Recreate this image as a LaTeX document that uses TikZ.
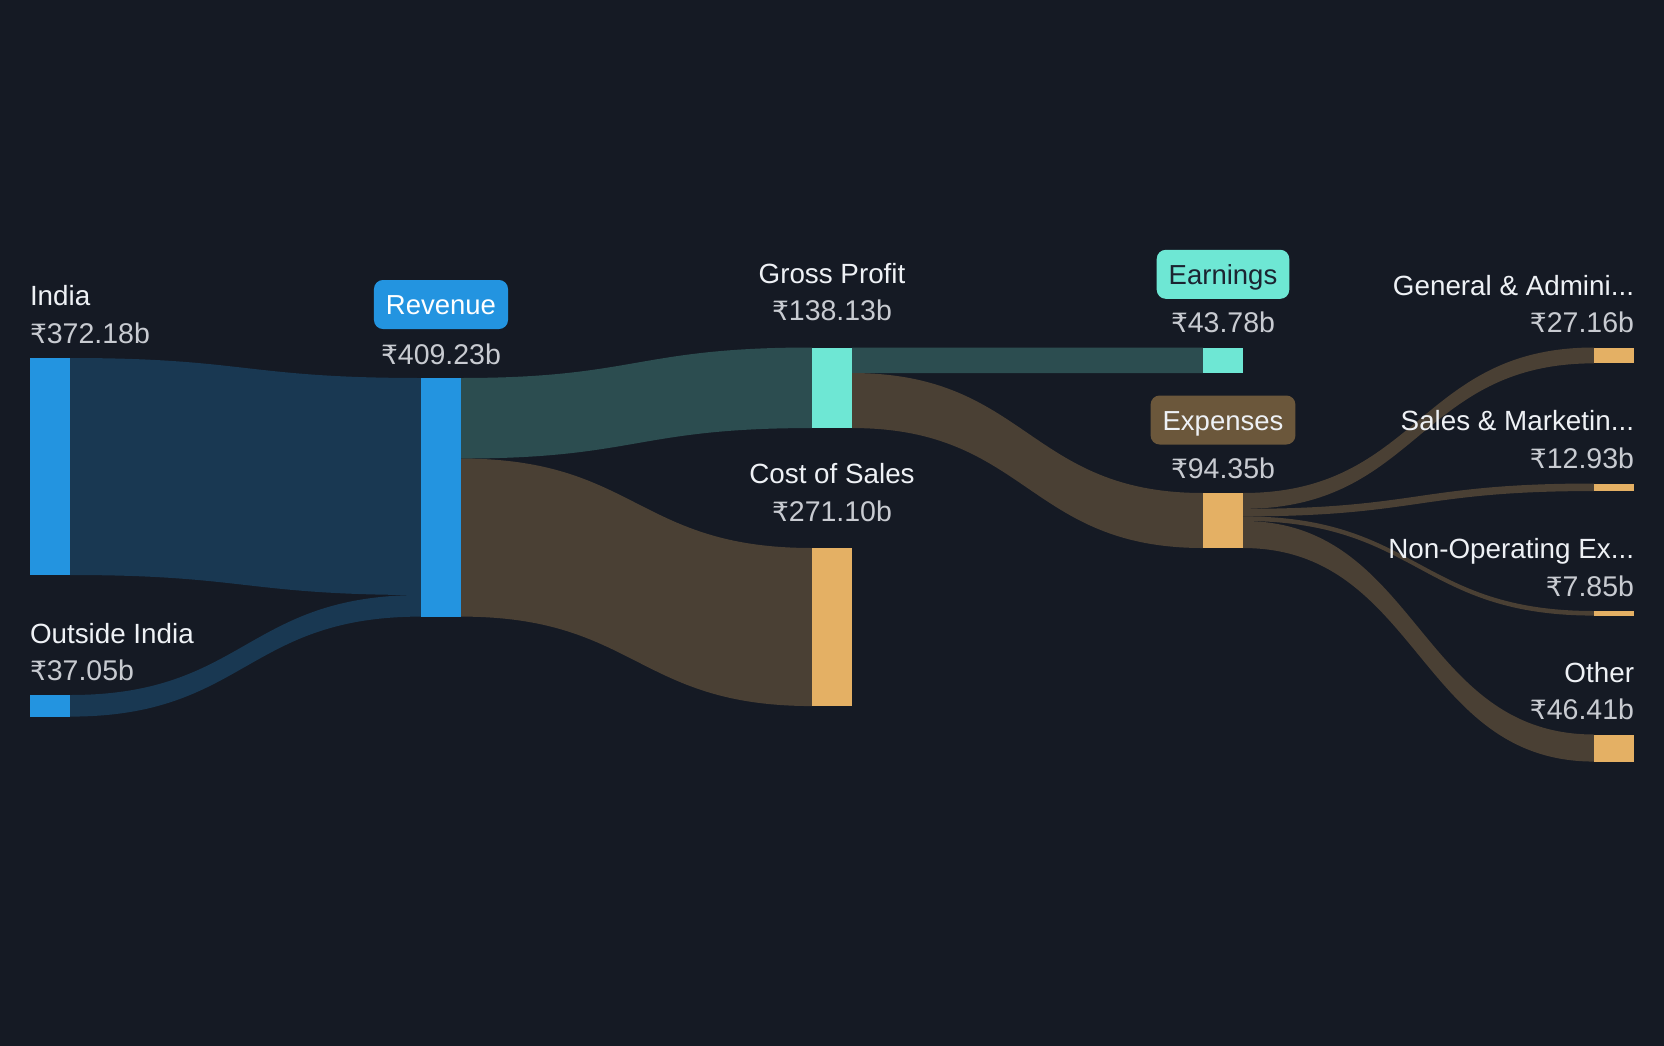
\documentclass[tikz,border=0pt]{standalone}
\usepackage{fontspec}
\setmainfont{Liberation Sans}
\newfontfamily\rupfont{DejaVu Sans}
\usetikzlibrary{calc}
\pgfdeclarelayer{bg}
\pgfsetlayers{bg,main}
\definecolor{bgc}{HTML}{151A24}
\definecolor{blueN}{HTML}{2394E0}
\definecolor{blueF}{HTML}{193852}
\definecolor{tealN}{HTML}{6EE7D4}
\definecolor{tealF}{HTML}{2C4D50}
\definecolor{orN}{HTML}{E4B064}
\definecolor{brF}{HTML}{4A4034}
\definecolor{expB}{HTML}{6B573B}
\definecolor{nameC}{HTML}{EEF1F5}
\definecolor{valC}{HTML}{C8CBD1}
\definecolor{darkT}{HTML}{1B2431}
\newcommand\Rs{{\rupfont\fontsize{26.5}{30}\selectfont ₹}}
\newcommand\ribbon[6]{%
  \fill[#6] let \p1=($(#1.north east)+(0,#2)$), \p2=($(#3.north west)+(0,#4)$),
    \p3=($(#3.north west)+(0,#4+#5)$), \p4=($(#1.north east)+(0,#2+#5)$)
  in (\p1) .. controls ({0.5*\x1+0.5*\x2},\y1) and ({0.5*\x1+0.5*\x2},\y2) .. (\p2)
  -- (\p3) .. controls ({0.5*\x1+0.5*\x2},\y3) and ({0.5*\x1+0.5*\x2},\y4) .. (\p4) -- cycle;}
\tikzset{
  bar/.style={rectangle, inner sep=0pt, outer sep=0pt, minimum width=40pt, draw=none, anchor=north west},
  nm/.style={text=nameC, font=\fontsize{27.8}{33}\selectfont, inner sep=0pt, outer sep=0pt},
  val/.style={text=valC, font=\fontsize{28.5}{33}\selectfont, inner sep=0pt, outer sep=0pt},
  badge/.style={rectangle, rounded corners=9pt, inner xsep=12pt, inner ysep=0pt, outer sep=0pt,
    minimum height=49pt, text height=20pt, text depth=0pt, font=\fontsize{27.5}{33}\selectfont}
}
\begin{document}
\begin{tikzpicture}[x=1pt,y=-1pt]
\useasboundingbox (0,0) rectangle (1664,1046);
\begin{pgfonlayer}{bg}
\fill[bgc] (0,0) rectangle (1664,1046);
\end{pgfonlayer}
% bars
\node[bar, fill=blueN, minimum height=217pt] (india) at (30,358) {};
\node[bar, fill=blueN, minimum height=21.6pt] (outside) at (30,695) {};
\node[bar, fill=blueN, minimum height=238.6pt] (rev) at (421,378) {};
\node[bar, fill=tealN, minimum height=80.54pt] (gp) at (812,347.5) {};
\node[bar, fill=orN, minimum height=158.06pt] (cos) at (812,548) {};
\node[bar, fill=tealN, minimum height=25.53pt] (earn) at (1203,347.5) {};
\node[bar, fill=orN, minimum height=55.01pt] (exp) at (1203,493) {};
\node[bar, fill=orN, minimum height=15.84pt] (ga) at (1594,347.5) {};
\node[bar, fill=orN, minimum height=7.54pt] (sm) at (1594,483.5) {};
\node[bar, fill=orN, minimum height=4.58pt] (nonop) at (1594,611) {};
\node[bar, fill=orN, minimum height=27.06pt] (other) at (1594,734.5) {};
% flows
\begin{pgfonlayer}{bg}
\ribbon{india}{0}{rev}{0}{217}{blueF}
\ribbon{outside}{0}{rev}{217}{21.6}{blueF}
\ribbon{rev}{0}{gp}{0}{80.54}{tealF}
\ribbon{rev}{80.54}{cos}{0}{158.06}{brF}
\ribbon{gp}{0}{earn}{0}{25.53}{tealF}
\ribbon{gp}{25.53}{exp}{0}{55.01}{brF}
\ribbon{exp}{0}{ga}{0}{15.84}{brF}
\ribbon{exp}{15.84}{sm}{0}{7.54}{brF}
\ribbon{exp}{23.38}{nonop}{0}{4.58}{brF}
\ribbon{exp}{27.96}{other}{0}{27.06}{brF}
\end{pgfonlayer}
% labels column 0
\node[nm, anchor=base west] (indiaN) at ($(india.north west)+(0,-53)$) {India};
\node[val, anchor=base west] (indiaV) at ($(india.north west)+(0,-14.7)$) {\Rs372.18b};
\node[nm, anchor=base west] (outsideN) at ($(outside.north west)+(0,-52)$) {Outside India};
\node[val, anchor=base west] (outsideV) at ($(outside.north west)+(0,-14.5)$) {\Rs37.05b};
% column 1
\node[badge, fill=blueN, text=white] (revB) at ($(rev.north)+(0,-73.5)$) {Revenue};
\node[val, anchor=base] (revV) at ($(rev.north)+(0,-14)$) {\Rs409.23b};
% column 2
\node[nm, anchor=base] (gpN) at ($(gp.north)+(0,-64.5)$) {Gross Profit};
\node[val, anchor=base] (gpV) at ($(gp.north)+(0,-27)$) {\Rs138.13b};
\node[nm, anchor=base] (cosN) at ($(cos.north)+(0,-64.5)$) {Cost of Sales};
\node[val, anchor=base] (cosV) at ($(cos.north)+(0,-26.5)$) {\Rs271.10b};
% column 3
\node[badge, fill=tealN, text=darkT] (earnB) at ($(earn.north)+(0,-73.2)$) {Earnings};
\node[val, anchor=base] (earnV) at ($(earn.north)+(0,-15.2)$) {\Rs43.78b};
\node[badge, fill=expB, text=nameC] (expB) at ($(exp.north)+(0,-73)$) {Expenses};
\node[val, anchor=base] (expV) at ($(exp.north)+(0,-15)$) {\Rs94.35b};
% column 4
\node[nm, anchor=base east] (gaN) at ($(ga.north east)+(0,-52.5)$) {General \& Admini...};
\node[val, anchor=base east] (gaV) at ($(ga.north east)+(0,-15.2)$) {\Rs27.16b};
\node[nm, anchor=base east] (smN) at ($(sm.north east)+(0,-52.8)$) {Sales \& Marketin...};
\node[val, anchor=base east] (smV) at ($(sm.north east)+(0,-15.2)$) {\Rs12.93b};
\node[nm, anchor=base east] (nonopN) at ($(nonop.north east)+(0,-52.5)$) {Non-Operating Ex...};
\node[val, anchor=base east] (nonopV) at ($(nonop.north east)+(0,-15)$) {\Rs7.85b};
\node[nm, anchor=base east] (otherN) at ($(other.north east)+(0,-52.5)$) {Other};
\node[val, anchor=base east] (otherV) at ($(other.north east)+(0,-15)$) {\Rs46.41b};
\end{tikzpicture}
\end{document}
